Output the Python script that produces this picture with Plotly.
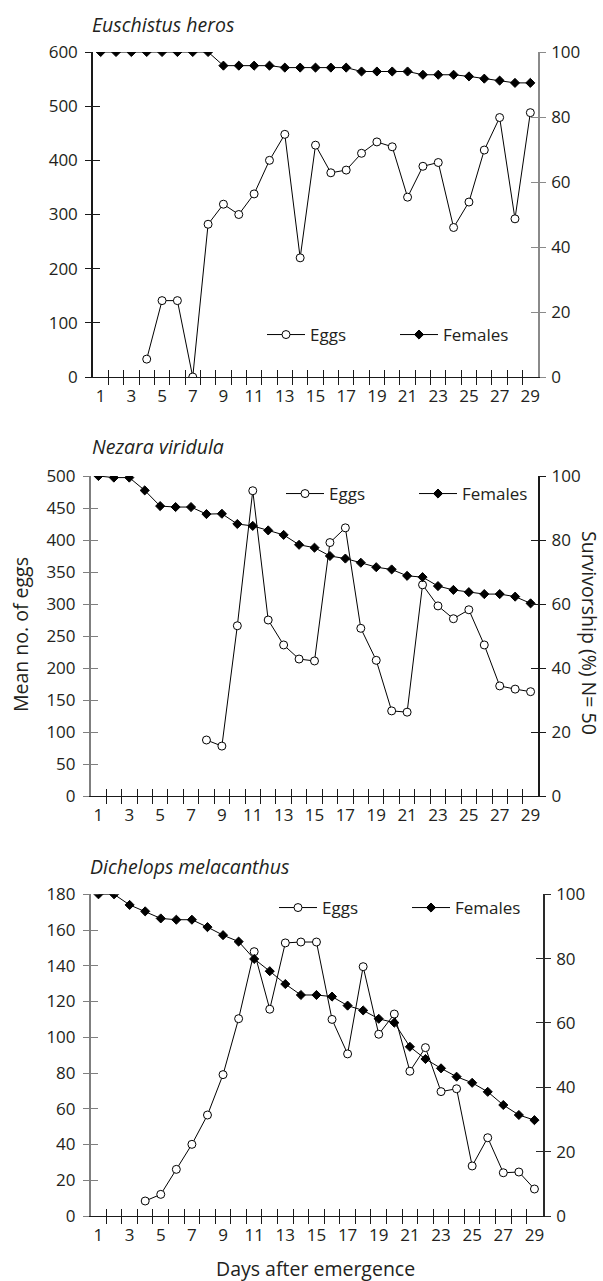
import plotly.graph_objects as go

days = list(range(1, 30))
day_labels = [str(d) for d in range(1, 30, 2)]
day_label_vals = list(range(1, 30, 2))

species = ["Euschistus heros", "Nezara viridula", "Dichelops melacanthus"]

eh_eggs = [None, None, None, 33, 141, 141, 0, 282, 319, 300, 338, 400, 448, 220, 428,
           377, 382, 413, 434, 425, 332, 389, 396, 276, 323, 419, 479, 292, 488]
eh_fem = [100, 100, 100, 100, 100, 100, 100, 100, 95.8, 95.8, 95.8, 95.8, 95.2, 95.2, 95.2,
          95.2, 95.2, 94, 94, 94, 94, 93, 93, 93, 92.5, 91.8, 91.2, 90.5, 90.5]

nv_eggs = [None, None, None, None, None, None, None, 87.5, 78, 266, 477, 275, 236, 214, 211,
           396, 419, 262, 212, 133, 131, 330, 297, 277, 291, 236, 172, 167, 163]
nv_fem = [100, 99.5, 99.5, 95.5, 90.6, 90.3, 90.3, 88.1, 88.2, 85, 84.4, 83, 81.6, 78.5, 77.6,
          75, 74.2, 72.9, 71.5, 70.8, 68.8, 68.4, 65.6, 64.4, 63.7, 63.1, 63.1, 62.3, 60.2]

dm_eggs = [None, None, None, 8.4, 12.1, 26.1, 40.1, 56.5, 79.1, 110.4, 147.9, 115.7, 152.8, 153.3, 153.3,
           110, 90.7, 139.5, 101.7, 113, 81, 94.2, 69.6, 71.2, 28, 43.8, 24.2, 24.6, 15.1]
dm_fem = [100, 100, 96.7, 94.7, 92.5, 92.1, 92.1, 89.8, 87.3, 85.3, 79.9, 76.1, 72.1, 68.7, 68.7,
          68.2, 65.4, 63.9, 61.3, 60.1, 52.6, 48.8, 45.9, 43.3, 41.4, 38.6, 34.5, 31.4, 29.8]

eggs_all = [eh_eggs, nv_eggs, dm_eggs]
fem_all = [eh_fem, nv_fem, dm_fem]
left_max = [600, 500, 180]
left_dtick = [100, 50, 20]

W, H = 603, 1281
FONT = "Open Sans"
TXT = "#231f20"
FS = 17      # tick labels, legend
FT = 19.5    # titles


def fx(px):
    return px / W


def fy(py):
    return 1 - py / H


# plot areas in page pixels: (x0, x1, ytop, ybottom)
areas = [(93, 538, 52, 377), (90.7, 538.3, 476, 796), (90.7, 543, 894.3, 1216)]
legend_pos = [(262, 335), (281, 494), (274, 908)]
title_pos = [(90, 24), (90, 447), (88, 866)]
left_col = ["#1a1a1a", "#7f7f7f", "#7f7f7f"]
right_col = ["#8a8a8a", "#1a1a1a", "#2a2a2a"]

boundaries = [d + 0.5 for d in days[:-1]]

fig = go.Figure()
layout = dict(
    width=W, height=H, margin=dict(l=0, r=0, t=0, b=0, autoexpand=False),
    paper_bgcolor="white", plot_bgcolor="rgba(0,0,0,0)",
    font=dict(family=FONT, size=FS, color=TXT),
    hovermode=False, annotations=[],
)

for p in range(3):
    xi = [3 * p + 1, 3 * p + 2, 3 * p + 3]
    yi = [4 * p + 1, 4 * p + 2, 4 * p + 3, 4 * p + 4]
    xn = ["x" if i == 1 else f"x{i}" for i in xi]
    yn = ["y" if i == 1 else f"y{i}" for i in yi]
    xk = ["xaxis" if i == 1 else f"xaxis{i}" for i in xi]
    yk = ["yaxis" if i == 1 else f"yaxis{i}" for i in yi]
    lg = "legend" if p == 0 else f"legend{p + 1}"
    x0, x1, yt, yb = areas[p]
    xr = [0.5, 29.5] if p < 2 else [0.5, 29.55]

    fig.add_trace(go.Scatter(
        x=days, y=eggs_all[p], name="Eggs", mode="lines+markers",
        line=dict(color="black", width=1),
        marker=dict(symbol="circle", size=8, color="white", line=dict(color="black", width=1)),
        xaxis=xn[0], yaxis=yn[0], legend=lg, connectgaps=False))
    fig.add_trace(go.Scatter(
        x=days, y=fem_all[p], name="Females", mode="lines+markers",
        line=dict(color="black", width=1),
        marker=dict(symbol="diamond", size=7, color="black", line=dict(color="black", width=1)),
        xaxis=xn[0], yaxis=yn[2], legend=lg))
    fig.add_trace(go.Scatter(x=[], y=[], xaxis=xn[1], yaxis=yn[1], showlegend=False))
    fig.add_trace(go.Scatter(x=[], y=[], xaxis=xn[2], yaxis=yn[3], showlegend=False))

    dom_x = [fx(x0), fx(x1)]
    dom_y = [fy(yb), fy(yt)]
    common_x = dict(range=xr, showgrid=False, zeroline=False, fixedrange=True)
    layout[xk[0]] = dict(common_x, domain=dom_x, anchor=yn[0], showline=True,
                         linecolor="#1a1a1a", linewidth=1.3,
                         tickmode="array", tickvals=boundaries, ticks="outside",
                         ticklen=7, tickwidth=1.2, tickcolor="#1a1a1a", showticklabels=False)
    layout[xk[1]] = dict(common_x, overlaying=xn[0], anchor=yn[0], side="bottom", showline=False,
                         tickmode="array", tickvals=boundaries, ticks="inside",
                         ticklen=7, tickwidth=1.2, tickcolor="#1a1a1a", showticklabels=False)
    layout[xk[2]] = dict(common_x, overlaying=xn[0], anchor=yn[0], side="bottom", showline=False,
                         tickmode="array", tickvals=day_label_vals, ticktext=day_labels,
                         ticks="outside", ticklen=4, tickcolor="rgba(0,0,0,0)",
                         tickfont=dict(family=FONT, size=FS, color=TXT))
    common_yl = dict(range=[0, left_max[p]], showgrid=False, zeroline=False, fixedrange=True,
                     tickmode="linear", tick0=0, dtick=left_dtick[p])
    layout[yk[0]] = dict(common_yl, domain=dom_y, anchor=xn[0], side="left", showline=True,
                         linecolor=left_col[p], linewidth=1.5,
                         ticks="outside", ticklen=6, tickwidth=1.2, tickcolor=left_col[p],
                         tickfont=dict(family=FONT, size=FS, color=TXT), ticklabelstandoff=4)
    layout[yk[1]] = dict(common_yl, overlaying=yn[0], anchor=xn[0], side="left", showline=False,
                         ticks="inside", ticklen=7, tickwidth=1.2, tickcolor=left_col[p],
                         showticklabels=False)
    common_yr = dict(range=[0, 100], showgrid=False, zeroline=False, fixedrange=True,
                     tickmode="linear", tick0=0, dtick=20)
    layout[yk[2]] = dict(common_yr, overlaying=yn[0], anchor=xn[0], side="right", showline=True,
                         linecolor=right_col[p], linewidth=1.5,
                         ticks="outside", ticklen=6, tickwidth=1.2, tickcolor=right_col[p],
                         tickfont=dict(family=FONT, size=FS, color=TXT), ticklabelstandoff=2)
    layout[yk[3]] = dict(common_yr, overlaying=yn[0], anchor=xn[0], side="right", showline=False,
                         ticks="inside", ticklen=7, tickwidth=1.2, tickcolor=right_col[p],
                         showticklabels=False)

    lx, ly = legend_pos[p]
    layout[lg] = dict(orientation="h", x=fx(lx), y=fy(ly), xanchor="left", yanchor="middle",
                      bgcolor="rgba(0,0,0,0)", borderwidth=0, itemwidth=38, entrywidth=80,
                      entrywidthmode="pixels", font=dict(family=FONT, size=FS, color=TXT),
                      itemclick=False, itemdoubleclick=False)

    tx, ty = title_pos[p]
    layout["annotations"].append(dict(
        text=f"<i>{species[p]}</i>", x=fx(tx), y=fy(ty), xref="paper", yref="paper",
        xanchor="left", yanchor="middle", showarrow=False,
        font=dict(family=FONT, size=FT, color=TXT)))

layout["annotations"].append(dict(
    text="Mean no. of eggs", x=fx(20), y=fy(635), xref="paper", yref="paper",
    xanchor="center", yanchor="middle", textangle=-90, showarrow=False,
    font=dict(family=FONT, size=FT, color=TXT)))
layout["annotations"].append(dict(
    text="Survivorship (%) N= 50", x=fx(590), y=fy(633), xref="paper", yref="paper",
    xanchor="center", yanchor="middle", textangle=90, showarrow=False,
    font=dict(family=FONT, size=FT, color=TXT)))
layout["annotations"].append(dict(
    text="Days after emergence", x=fx(316), y=fy(1268), xref="paper", yref="paper",
    xanchor="center", yanchor="middle", showarrow=False,
    font=dict(family=FONT, size=FT, color=TXT)))

fig.update_layout(**layout)
fig.write_html(
    "out.html", config={"displayModeBar": False},
    post_script="document.body.style.margin='0px';document.body.style.overflow='hidden';")
